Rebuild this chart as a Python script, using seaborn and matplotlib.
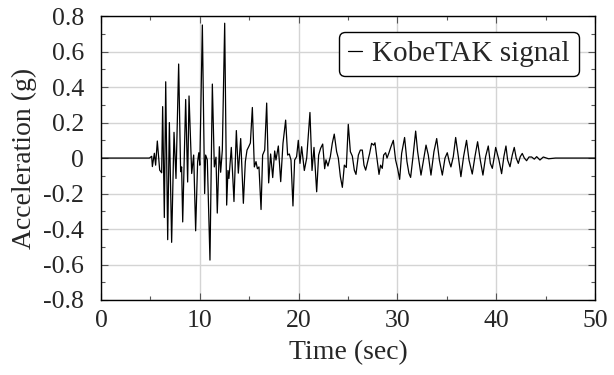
import numpy as np
import pandas as pd
import matplotlib
matplotlib.use("Agg")
import matplotlib.pyplot as plt
from matplotlib.ticker import MultipleLocator, FuncFormatter
import seaborn as sns

# Time (s) and acceleration (g) vertices
time_s = [0.0, 4.9, 5.13, 5.2, 5.4, 5.53, 5.7, 5.94, 6.14, 6.24, 6.41, 6.55, 6.75, 6.92,
          7.15, 7.39, 7.59, 7.86, 8.06, 8.16, 8.27, 8.57, 8.77, 8.91, 9.18, 9.38, 9.58,
          9.78, 9.9, 10.0, 10.26, 10.49, 10.59, 10.76, 11.03, 11.27, 11.47, 11.64, 11.77,
          11.98, 12.11, 12.28, 12.52, 12.72, 12.85, 12.95, 13.19, 13.46, 13.7, 13.9,
          14.14, 14.41, 14.61, 14.78, 14.95, 15.12, 15.32, 15.52, 15.69, 15.83, 15.99,
          16.2, 16.36, 16.57, 16.77, 16.97, 17.17, 17.38, 17.58, 17.71, 17.95, 18.19,
          18.42, 18.69, 18.89, 19.06, 19.23, 19.43, 19.6, 19.8, 19.97, 20.14, 20.31,
          20.58, 20.82, 21.15, 21.36, 21.56, 21.83, 22.03, 22.23, 22.44, 22.64, 22.77,
          22.97, 23.21, 23.41, 23.61, 23.85, 24.02, 24.23, 24.43, 24.63, 24.83, 25.03,
          25.24, 25.44, 25.64, 25.81, 26.05, 26.25, 26.45, 26.62, 26.79, 26.99, 27.19,
          27.39, 27.6, 27.73, 27.93, 28.14, 28.3, 28.47, 28.61, 28.81, 28.95, 29.15,
          29.35, 29.59, 29.82, 30.02, 30.23, 30.43, 30.73, 30.97, 31.17, 31.34, 31.58,
          31.85, 32.05, 32.39, 32.65, 32.9, 33.13, 33.4, 33.7, 33.98, 34.25, 34.55,
          34.82, 35.05, 35.25, 35.42, 35.66, 35.9, 36.17, 36.43, 36.7, 37.0, 37.25,
          37.58, 37.85, 38.12, 38.39, 38.66, 38.93, 39.2, 39.41, 39.61, 39.81, 39.95,
          40.28, 40.55, 40.78, 40.99, 41.16, 41.4, 41.63, 41.83, 42.03, 42.24, 42.44,
          42.64, 42.85, 43.08, 43.32, 43.59, 43.86, 44.1, 44.43, 44.77, 45.3, 46.0, 50.0]
accel_g = [0.0, 0.0, 0.01, -0.048, 0.027, -0.04, 0.096, -0.068, -0.083, 0.29, -0.335,
           0.43, -0.46, 0.2, -0.475, 0.145, -0.115, 0.53, -0.077, -0.05, -0.36, 0.33,
           -0.135, 0.35, -0.087, 0.017, -0.41, -0.02, 0.03, -0.04, 0.75, -0.2, 0.017,
           -0.01, -0.575, 0.417, -0.05, 0.005, -0.31, 0.064, -0.08, 0.045, 0.76, -0.265,
           -0.07, -0.115, 0.06, -0.245, 0.155, -0.085, 0.11, -0.255, -0.02, 0.045, 0.064,
           0.085, 0.285, -0.05, -0.02, -0.06, -0.05, -0.29, 0.017, 0.045, 0.31, -0.14,
           0.023, -0.11, 0.04, -0.011, 0.068, -0.133, 0.083, 0.214, 0.017, 0.023, -0.011,
           -0.27, -0.011, 0.008, 0.1, -0.03, 0.064, -0.07, 0.0, 0.257, -0.07, 0.06, -0.19,
           0.017, 0.055, 0.079, -0.06, -0.01, -0.045, 0.007, 0.083, 0.135, 0.036, 0.0,
           -0.105, -0.165, -0.04, -0.053, 0.19, 0.036, 0.011, -0.068, -0.092, 0.017, 0.045,
           0.045, -0.04, -0.068, -0.02, 0.026, 0.083, 0.073, 0.086, -0.002, -0.092, -0.04,
           -0.058, 0.017, 0.03, 0.0, 0.03, 0.064, 0.1, -0.011, -0.058, -0.12, 0.026, 0.116,
           -0.02, -0.086, -0.109, 0.007, 0.152, 0.036, -0.096, -0.011, 0.073, 0.017, -0.096,
           0.036, 0.11, -0.011, -0.096, 0.0, 0.03, -0.02, -0.05, 0.008, 0.116, 0.008,
           -0.105, 0.008, 0.1, -0.011, -0.09, 0.008, 0.092, -0.011, -0.096, 0.008, 0.068,
           -0.03, -0.058, 0.008, 0.06, -0.011, -0.088, 0.008, 0.068, -0.011, -0.049, 0.017,
           0.06, 0.0, -0.03, 0.008, 0.026, 0.0, -0.015, 0.006, 0.006, -0.006, 0.008, -0.011,
           0.006, -0.004, 0.0, 0.0]

series_name = "KobeTAK signal"
x_ticks = [0, 10, 20, 30, 40, 50]
y_ticks = [-0.8, -0.6, -0.4, -0.2, 0, 0.2, 0.4, 0.6, 0.8]

df = pd.DataFrame({"Time": time_s, "Acc": accel_g, "series": series_name})

sns.set_theme(style="whitegrid")
plt.rcParams["font.family"] = ["Liberation Serif", "DejaVu Serif"]
plt.rcParams["axes.unicode_minus"] = False

fig = plt.figure(figsize=(6.14, 3.75), dpi=100)
ax = fig.add_axes([0.1645, 0.2, 0.8045, 0.757])

sns.lineplot(data=df, x="Time", y="Acc", hue="series", palette=["black"],
             estimator=None, sort=False, linewidth=0.9, ax=ax)

ax.set_xlim(0, 50)
ax.set_ylim(-0.8, 0.8)
ax.set_xticks(x_ticks)
ax.set_yticks(y_ticks)
ax.xaxis.set_minor_locator(MultipleLocator(5))
ax.yaxis.set_minor_locator(MultipleLocator(0.1))
ax.yaxis.set_major_formatter(FuncFormatter(lambda v, p: "0" if abs(v) < 1e-9 else f"{v:.1f}"))
ax.xaxis.set_major_formatter(FuncFormatter(lambda v, p: f"{v:.0f}"))

ax.grid(True, which="major", color="#d4d4d4", linewidth=1.0)
ax.grid(False, which="minor")
for s in ax.spines.values():
    s.set_color("black")
    s.set_linewidth(1.0)
ax.set_facecolor("white")

ax.tick_params(which="both", direction="in", top=True, right=True, bottom=True, left=True,
               color="#555555")
ax.tick_params(which="major", length=5, width=0.8)
ax.tick_params(which="minor", length=3, width=0.8)
ax.tick_params(axis="x", which="major", labelsize=18.5, pad=7)
ax.tick_params(axis="y", which="major", labelsize=18.5, pad=12)

ax.set_xlabel("Time (sec)", fontsize=20, labelpad=6)
ax.set_ylabel("Acceleration (g)", fontsize=20, labelpad=5)

leg = ax.legend(loc="upper right", bbox_to_anchor=(0.967, 0.945), fontsize=21,
                frameon=True, fancybox=True, edgecolor="black", framealpha=1,
                handlelength=0.5, handletextpad=0.35, borderpad=0.3, borderaxespad=0)
leg.get_frame().set_linewidth(1.0)
for line in leg.get_lines():
    line.set_linewidth(0.9)

fig.savefig("out.png", dpi=100)
